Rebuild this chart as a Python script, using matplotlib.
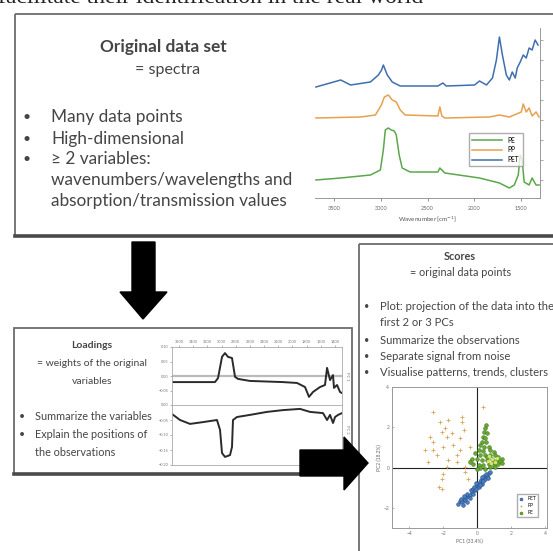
import matplotlib
matplotlib.use('Agg')
import matplotlib.pyplot as plt
from matplotlib.patches import Rectangle, Polygon

W, H = 553, 551
plt.rcParams['font.family'] = ['Lato', 'DejaVu Sans']
TXT = '#454545'

# --- spectra: wavenumber (cm-1) and offset intensity ---
pet_wn = [3690, 3426, 3320, 3109, 3024, 2990, 2971, 2950, 2929, 2876, 2791, 2389, 2336, 2300,
          1998, 1945, 1871, 1807, 1765, 1733, 1701, 1659, 1627, 1596, 1564, 1543, 1511,
          1479, 1447, 1416, 1384, 1352, 1321]
pet_int = [1.13, 1.20, 1.15, 1.18, 1.25, 1.30, 1.35, 1.30, 1.25, 1.18, 1.14, 1.14, 1.17, 1.14,
           1.15, 1.19, 1.15, 1.22, 1.40, 1.63, 1.45, 1.25, 1.20, 1.28, 1.22, 1.32, 1.38,
           1.45, 1.42, 1.52, 1.50, 1.60, 1.55]

pp_wn = [3690, 3214, 3056, 2992, 2960, 2918, 2876, 2833, 2791, 2738, 2389, 2368, 2347, 2315,
         1839, 1733, 1627, 1500, 1479, 1447, 1416, 1384, 1342, 1310]
pp_int = [0.82, 0.83, 0.85, 0.95, 1.03, 1.05, 1.00, 0.98, 0.90, 0.85, 0.84, 0.93, 0.84, 0.82,
          0.83, 0.85, 0.83, 0.88, 0.96, 0.88, 0.92, 0.84, 0.88, 0.83]

pe_wn = [3690, 3426, 3109, 3003, 2971, 2950, 2918, 2886, 2855, 2833, 2802, 2770, 2685, 2389,
         2368, 2315, 1945, 1733, 1627, 1574, 1532, 1511, 1490, 1469, 1416, 1384, 1342, 1310]
pe_int = [0.20, 0.22, 0.25, 0.30, 0.50, 0.70, 0.72, 0.70, 0.69, 0.65, 0.45, 0.32, 0.28, 0.28,
          0.32, 0.27, 0.22, 0.17, 0.12, 0.15, 0.25, 0.45, 0.40, 0.18, 0.15, 0.22, 0.15, 0.15]
spec_ticks = [3500, 3000, 2500, 2000, 1500]

# --- loadings ---
ld1_wn = [3700, 3305, 3093, 3050, 2994, 2952, 2909, 2853, 2810, 2768, 2599, 2133, 1935, 1822,
          1766, 1709, 1610, 1540, 1511, 1469, 1427, 1413, 1370, 1328, 1300]
ld1 = [-0.021, -0.021, -0.021, -0.007, 0.066, 0.079, 0.066, 0.062, -0.003, -0.010, -0.017,
       -0.021, -0.024, -0.038, -0.072, -0.055, -0.038, -0.031, 0.028, -0.014, 0.003, -0.041,
       -0.031, -0.055, -0.059]
ld2_wn = [3700, 3587, 3446, 3262, 3065, 3022, 2994, 2952, 2881, 2853, 2839, 2782, 2599, 2359,
          2133, 1893, 1751, 1568, 1511, 1469, 1427, 1398, 1356, 1300]
ld2 = [-0.030, -0.050, -0.063, -0.057, -0.050, -0.083, -0.160, -0.173, -0.167, -0.140, -0.050,
       -0.040, -0.033, -0.023, -0.017, -0.013, -0.023, -0.027, -0.050, -0.033, -0.060, -0.040,
       -0.033, -0.027]
ld_ticks = [3600, 3400, 3200, 3000, 2800, 2600, 2400, 2200, 2000, 1800, 1600, 1400]

# --- scores ---
pp_x = [-2.57, 0.37, -2.18, -1.69, -0.90, -0.90, -1.88, -2.08, -0.80, -2.76, -2.57, -1.78,
        -1.00, -3.06, -2.57, -1.98, -1.00, -1.20, -0.41, -1.69, -2.86, -1.20, -0.41, -1.98,
        -2.08, -0.71, -0.51, -2.27, -2.08, -1.78, -0.71, -1.39, -2.37, -1.49]
pp_y = [2.75, 3.03, 2.28, 2.37, 2.53, 2.28, 1.95, 1.78, 1.87, 1.53, 1.28, 1.53, 1.45, 0.87,
        0.87, 1.03, 0.87, 0.62, 1.03, 0.37, 0.28, 0.28, 0.37, -0.30, -0.55, -0.22, -0.55,
        -0.97, -1.05, 0.03, 0.03, 1.12, 0.62, 1.70]
pe_x = [0.53, 0.47, 0.41, 0.57, 0.33, 0.47, 0.27, 0.53, 0.18, 0.41, 0.67, 0.08, 0.37, 0.76,
        0.96, -0.12, 0.18, 0.47, 0.76, 1.06, 1.25, 1.45, -0.31, -0.02, 0.27, 0.57, 0.86, 1.16,
        1.35, -0.22, 0.08, 0.37, 0.67, 0.96, 1.25, 0.18, 0.47, 0.76, 1.06, -0.02, -0.41, 1.45,
        0.57, 0.92]
pe_y = [2.12, 1.95, 1.78, 1.70, 1.53, 1.45, 1.28, 1.28, 1.12, 1.03, 1.03, 0.87, 0.82, 0.87,
        0.78, 0.70, 0.62, 0.62, 0.62, 0.62, 0.53, 0.45, 0.45, 0.42, 0.37, 0.37, 0.42, 0.37,
        0.32, 0.20, 0.15, 0.15, 0.20, 0.15, 0.20, -0.02, -0.05, 0.03, 0.03, -0.05, 0.28, 0.25,
        0.53, 0.28]
pe_light_x = [0.70, 0.90, 1.05, 0.80, 1.15, 0.62]
pe_light_y = [0.55, 0.45, 0.30, 0.25, 0.50, 0.35]
pet_x = [-1.10, -1.00, -0.90, -0.80, -0.71, -0.65, -0.51, -0.57, -0.41, -0.31, -0.37, -0.22,
         -0.12, -0.16, -0.02, 0.08, 0.02, 0.18, 0.27, 0.22, 0.37, 0.47, 0.41, 0.57, 0.53, 0.67,
         0.76, -0.84, -0.96, -0.45, -0.25, -0.06, 0.14, 0.33, 0.61, -0.61, -0.76, -0.06, 0.27]
pet_y = [-1.80, -1.68, -1.72, -1.55, -1.63, -1.47, -1.42, -1.30, -1.35, -1.22, -1.13, -1.05,
         -1.13, -0.97, -0.88, -0.97, -0.80, -0.72, -0.80, -0.63, -0.55, -0.58, -0.42, -0.42,
         -0.30, -0.25, -0.22, -1.85, -1.58, -1.52, -1.30, -1.05, -0.88, -0.68, -0.52, -1.72,
         -1.42, -0.75, -0.47]
sc_xticks = [-4, -2, 0, 2, 4]
sc_yticks = [-2, 0, 2, 4]

fig = plt.figure(figsize=(W / 100, H / 100), dpi=100)
base = fig.add_axes([0, 0, 1, 1])
base.set_xlim(0, W)
base.set_ylim(H, 0)
base.axis('off')


def px_axes(x0, y0, x1, y1):
    return fig.add_axes([x0 / W, 1 - y1 / H, (x1 - x0) / W, (y1 - y0) / H])


# cut-off line of slide text at the very top
base.text(-2, 3, 'facilitate their identification in the real world',
          family='Liberation Serif', fontsize=17, color='#222222', va='baseline')

# boxes
base.add_patch(Rectangle((15, 14), 560, 222, fill=False, ec='#6c6c6c', lw=1.3))
base.plot([15, 553], [236, 236], color='#4a4a4a', lw=2.6)
base.add_patch(Rectangle((14, 328), 338, 146, fill=False, ec='#6c6c6c', lw=1.3))
base.plot([14, 352], [474, 474], color='#4a4a4a', lw=2.6)
base.add_patch(Rectangle((359, 244), 220, 330, fill=False, ec='#6c6c6c', lw=1.3))

# box 1 text
base.text(163, 47, 'Original data set', fontsize=12.4, weight='bold', color=TXT, ha='center', va='center')
base.text(168, 70, '= spectra', fontsize=11.5, color=TXT, ha='center', va='center')
for yy, s in zip([117, 139, 159], ['Many data points', 'High-dimensional', '\u2265 2 variables:']):
    base.text(27, yy, '\u2022', fontsize=10, color=TXT, ha='center', va='center')
    base.text(51, yy, s, fontsize=12.4, color=TXT, va='center')
base.text(51, 180, 'wavenumbers/wavelengths and', fontsize=12.4, color=TXT, va='center')
base.text(51, 201, 'absorption/transmission values', fontsize=12.4, color=TXT, va='center')

# box 2 text
base.text(92, 345, 'Loadings', fontsize=7.5, weight='bold', color=TXT, ha='center', va='center')
base.text(92, 363, '= weights of the original', fontsize=7.5, color=TXT, ha='center', va='center')
base.text(92, 382, 'variables', fontsize=7.5, color=TXT, ha='center', va='center')
for yy, s in zip([417, 435], ['Summarize the variables', 'Explain the positions of']):
    base.text(22, yy, '\u2022', fontsize=7.5, color=TXT, ha='center', va='center')
    base.text(35, yy, s, fontsize=7.8, color=TXT, va='center')
base.text(35, 453, 'the observations', fontsize=7.8, color=TXT, va='center')

# box 3 text
base.text(460, 257, 'Scores', fontsize=7.8, weight='bold', color=TXT, ha='center', va='center')
base.text(461, 273, '= original data points', fontsize=7.8, color=TXT, ha='center', va='center')
b3 = [(307, 'Plot: projection of the data into the', True), (323, 'first 2 or 3 PCs', False),
      (340, 'Summarize the observations', True), (357, 'Separate signal from noise', True),
      (372, 'Visualise patterns, trends, clusters', True)]
for yy, s, bul in b3:
    if bul:
        base.text(367, yy, '\u2022', fontsize=6.5, color=TXT, ha='center', va='center')
    base.text(380, yy, s, fontsize=8.1, color=TXT, va='center')

# --- spectra plot ---
ax1 = px_axes(315, 28, 540, 198)
ax1.plot(pe_wn, pe_int, color='#5aa84a', lw=1.1, label='PE')
ax1.plot(pp_wn, pp_int, color='#e8a050', lw=1.1, label='PP')
ax1.plot(pet_wn, pet_int, color='#3f6fb0', lw=1.1, label='PET')
ax1.set_xlim(3700, 1300)
ax1.set_ylim(0.02, 1.72)
ax1.set_xticks(spec_ticks)
ax1.tick_params(axis='x', labelsize=4, colors='#666666', length=2, width=0.5)
ax1.yaxis.tick_right()
ax1.set_yticks([0.2, 0.4, 0.6, 0.8, 1.0, 1.2, 1.4, 1.6])
ax1.tick_params(axis='y', labelright=False, length=2, width=0.5, colors='#888888')
for k in ['top', 'left']:
    ax1.spines[k].set_visible(False)
for k in ['bottom', 'right']:
    ax1.spines[k].set_color('#999999')
    ax1.spines[k].set_linewidth(0.7)
ax1.set_xlabel('Wavenumber [cm$^{-1}$]', fontsize=4.5, color='#555555', labelpad=3)
ax1.legend(loc='upper left', bbox_to_anchor=(0.67, 0.40), fontsize=4.8, frameon=True,
           fancybox=False, edgecolor='#999999', handlelength=4.5, borderpad=0.5, labelspacing=0.4)
ax1.patch.set_alpha(0)

# --- loadings plot ---
la = px_axes(172, 347, 342, 405)
lb = px_axes(172, 405, 342, 465)
la.plot(ld1_wn, ld1, color='#2a2a2a', lw=1.4)
la.axhline(0, color='#bbbbbb', lw=1.6, zorder=0)
la.set_ylim(-0.1, 0.1)
la.set_yticks([-0.05, 0, 0.05, 0.1])
la.xaxis.tick_top()
la.set_xticks(ld_ticks)
lb.plot(ld2_wn, ld2, color='#2a2a2a', lw=1.4)
lb.set_ylim(-0.2, 0.0)
lb.set_yticks([-0.2, -0.15, -0.1, -0.05, 0])
lb.set_xticks([])
for a in (la, lb):
    a.set_xlim(3700, 1300)
    a.tick_params(labelsize=2.8, colors='#777777', length=1.5, width=0.4, pad=1)
    for s in a.spines.values():
        s.set_color('#aaaaaa')
        s.set_linewidth(0.6)
la.text(1.03, 0.5, 'PC 1', transform=la.transAxes, rotation=270, fontsize=3, color='#777777',
        va='center', ha='center')
lb.text(1.03, 0.6, 'PC 2', transform=lb.transAxes, rotation=270, fontsize=3, color='#777777',
        va='center', ha='center')

# --- scores plot ---
sc = px_axes(392, 387, 547, 528)
sc.scatter(pet_x, pet_y, s=7, marker='o', facecolor='#4a7fc0', edgecolor='#2a4f8a', lw=0.4,
           label='PET', zorder=3)
sc.scatter(pp_x, pp_y, s=6, marker='+', color='#d8a45a', lw=0.6, label='PP', zorder=3)
sc.scatter(pe_x, pe_y, s=7, marker='o', facecolor='#6aaa30', edgecolor='#3f7a1c', lw=0.4,
           label='PE', zorder=3)
sc.scatter(pe_light_x, pe_light_y, s=6, marker='o', color='#d9e26a', lw=0, zorder=4)
sc.axhline(0, color='#222222', lw=0.8, zorder=2)
sc.axvline(0, color='#222222', lw=0.8, zorder=2)
sc.set_xlim(-5, 4.1)
sc.set_ylim(-3, 4)
sc.set_xticks(sc_xticks)
sc.set_yticks(sc_yticks)
sc.tick_params(labelsize=3.5, colors='#777777', length=1.5, width=0.4, pad=2, direction='in')
for s in sc.spines.values():
    s.set_color('#999999')
    s.set_linewidth(0.7)
sc.set_xlabel('PC1 (33.4%)', fontsize=3.5, color='#666666', labelpad=2)
sc.set_ylabel('PC2 (18.2%)', fontsize=3.5, color='#666666', labelpad=1)
sc.legend(loc='lower right', bbox_to_anchor=(0.96, 0.06), fontsize=3.5, fancybox=False,
          edgecolor='#999999', handlelength=1, borderpad=0.4, labelspacing=0.4, markerscale=0.8)

# --- arrows on top ---
top = fig.add_axes([0, 0, 1, 1])
top.set_xlim(0, W)
top.set_ylim(H, 0)
top.axis('off')
top.patch.set_alpha(0)
down = [(132, 242), (155, 242), (155, 292), (167, 292), (143, 319), (120, 292), (132, 292)]
right = [(300, 450), (344, 450), (344, 437), (368, 463), (344, 490), (344, 476), (300, 476)]
top.add_patch(Polygon(down, closed=True, color='black'))
top.add_patch(Polygon(right, closed=True, color='black'))

fig.savefig('out.png', dpi=100)
